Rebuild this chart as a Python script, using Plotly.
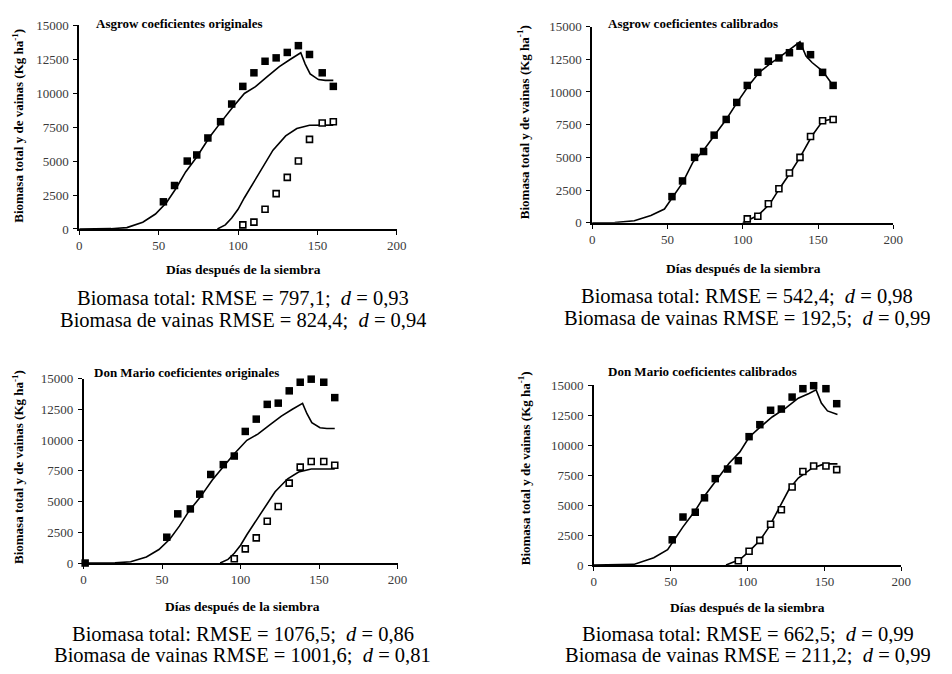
import plotly.graph_objects as go

W, H = 952, 674

# ---------------- data ----------------
days_obs = [53, 60, 68, 74, 81, 89, 96, 103, 110, 117, 124, 131, 138, 145, 153, 160]
asgrow_total_obs = [2000, 3200, 5000, 5450, 6700, 7900, 9200, 10500, 11500, 12350,
                    12600, 13000, 13500, 12850, 11500, 10500]
asgrow_pod_days = [103, 110, 117, 124, 131, 138, 145, 153, 160]
asgrow_pod_obs = [300, 500, 1450, 2600, 3800, 5000, 6600, 7800, 7900]

dm_total_days = [1, 53, 60, 68, 74, 81, 89, 96, 103, 110, 117, 124, 131, 138, 145, 153, 160]
dm_total_obs = [0, 2100, 4000, 4400, 5600, 7200, 8000, 8700, 10700, 11700, 12900,
                13000, 14000, 14700, 14950, 14700, 13450]
dm_pod_days = [96, 103, 110, 117, 124, 131, 138, 145, 153, 160]
dm_pod_obs = [350, 1150, 2050, 3400, 4600, 6500, 7800, 8250, 8250, 7950]

dm_cal_total_days = [51, 58, 66, 72, 79, 87, 94, 101, 108, 115, 122, 129, 136, 143, 151, 158]
dm_cal_total_obs = [2100, 4000, 4400, 5600, 7200, 8000, 8700, 10700, 11700, 12900,
                    13000, 14000, 14700, 14950, 14700, 13450]
dm_cal_pod_days = [94, 101, 108, 115, 122, 129, 136, 143, 151, 158]
dm_cal_pod_obs = [350, 1150, 2050, 3400, 4600, 6500, 7800, 8250, 8250, 7950]

# simulated (original coefficients) - same curves for both cultivars
sim_orig_days = [0, 20, 30, 40, 48, 55, 61, 67, 74, 82, 89, 96, 104, 111, 118, 126,
                 133, 139.5, 142.3, 145.4, 150.6, 155, 160]
sim_orig_total = [0, 20, 100, 500, 1100, 1950, 3000, 4200, 5300, 6750, 7830, 8880,
                  9980, 10480, 11180, 11950, 12500, 12980, 12140, 11420, 11000, 10940, 10940]
sim_orig_pod_days = [87, 92, 96, 100, 104, 110, 116, 122, 130, 137, 145, 160]
sim_orig_pod = [0, 300, 800, 1450, 2300, 3450, 4650, 5800, 6850, 7400, 7640, 7650]

# simulated (calibrated) Asgrow
sim_ag_cal_days = [0, 15, 28, 39, 48, 53, 60, 67, 74, 82, 89, 96, 104, 111, 118, 124,
                   131, 138, 142, 146, 153, 160]
sim_ag_cal_total = [0, 20, 150, 550, 1050, 1900, 3050, 4650, 5550, 6800, 7900, 9150,
                    10500, 11500, 12150, 12630, 13250, 13830, 12750, 12250, 11600, 10500]
sim_ag_cal_pod_days = [100, 105, 110, 118, 124, 132, 138, 146, 153, 160]
sim_ag_cal_pod = [0, 250, 550, 1450, 2550, 3900, 5000, 6650, 7770, 7950]

# simulated (calibrated) Don Mario
sim_dm_cal_days = [0, 20, 26, 39, 48, 58, 66, 72, 80, 88, 95, 101, 108, 116, 125,
                   133, 140, 144.6, 148, 152, 158.5]
sim_dm_cal_total = [0, 0, 50, 600, 1280, 3180, 4540, 5760, 7120, 8480, 9430, 10650,
                    11470, 12340, 13100, 13910, 14300, 14600, 13500, 12850, 12550]
sim_dm_cal_pod_days = [86, 95, 101, 108, 114, 120, 127, 133, 142, 150, 158.5]
sim_dm_cal_pod = [0, 460, 1140, 2040, 3180, 4680, 6310, 7250, 8070, 8430, 8430]

x_ticks = [0, 50, 100, 150, 200]
x_tick_labels = ["0", "50", "100", "150", "200"]
y_ticks = [0, 2500, 5000, 7500, 10000, 12500, 15000]
y_tick_labels = ["0", "2500", "5000", "7500", "10000", "12500", "15000"]

titles = ["Asgrow coeficientes originales", "Asgrow coeficientes calibrados",
          "Don Mario coeficientes originales", "Don Mario coeficientes calibrados"]
captions = [
    ("797,1", "0,93", "824,4", "0,94"),
    ("542,4", "0,98", "192,5", "0,99"),
    ("1076,5", "0,86", "1001,6", "0,81"),
    ("662,5", "0,99", "211,2", "0,99"),
]

panels_data = [
    (days_obs, asgrow_total_obs, asgrow_pod_days, asgrow_pod_obs,
     sim_orig_days, sim_orig_total, sim_orig_pod_days, sim_orig_pod),
    (days_obs, asgrow_total_obs, asgrow_pod_days, asgrow_pod_obs,
     sim_ag_cal_days, sim_ag_cal_total, sim_ag_cal_pod_days, sim_ag_cal_pod),
    (dm_total_days, dm_total_obs, dm_pod_days, dm_pod_obs,
     sim_orig_days, sim_orig_total, sim_orig_pod_days, sim_orig_pod),
    (dm_cal_total_days, dm_cal_total_obs, dm_cal_pod_days, dm_cal_pod_obs,
     sim_dm_cal_days, sim_dm_cal_total, sim_dm_cal_pod_days, sim_dm_cal_pod),
]

# ---------------- layout geometry (pixels) ----------------
boxes = [  # x0, x1, ytop, ybottom
    (77.3, 399.3, 18.7, 227.0),
    (597.3, 902.7, 20.0, 220.7),
    (81.7, 400.0, 380.0, 568.7),
    (599.0, 910.7, 386.7, 570.7),
]
title_pos = [(92, 16.7), (611.7, 16.7), (90.7, 374), (611.7, 373.3)]
xtitle_pos = [(243.5, 268.3), (751, 267.3), (243, 613.3), (755, 614.3)]
ytitle_pos = [(15, 121.7), (528, 118), (15, 470.7), (529, 472)]
cap_pos = [(243, 296.7, 319.3), (754, 295.5, 317.5), (243, 640.7, 662.7), (755, 640.7, 662.7)]


def px(x):
    return x / W


def py(y):
    return 1 - y / H


FONT = "Liberation Serif"
fig = go.Figure()
annotations = []

for i, (d_t, v_t, d_p, v_p, sd_t, sv_t, sd_p, sv_p) in enumerate(panels_data):
    n = "" if i == 0 else str(i + 1)
    xa, ya = "x" + n, "y" + n
    # simulated lines
    fig.add_trace(go.Scatter(x=sd_t, y=sv_t, mode="lines", xaxis=xa, yaxis=ya,
                             line=dict(color="black", width=1.6), showlegend=False,
                             cliponaxis=False))
    fig.add_trace(go.Scatter(x=sd_p, y=sv_p, mode="lines", xaxis=xa, yaxis=ya,
                             line=dict(color="black", width=1.6), showlegend=False,
                             cliponaxis=False))
    # observed
    fig.add_trace(go.Scatter(x=d_t, y=v_t, mode="markers", xaxis=xa, yaxis=ya,
                             marker=dict(symbol="square", size=7.5, color="black",
                                         line=dict(width=0)),
                             showlegend=False, cliponaxis=False))
    fig.add_trace(go.Scatter(x=d_p, y=v_p, mode="markers", xaxis=xa, yaxis=ya,
                             marker=dict(symbol="square", size=6, color="white",
                                         line=dict(width=1.6, color="black")),
                             showlegend=False, cliponaxis=False))

    x0, x1, yt, yb = boxes[i]
    axis_common = dict(showgrid=False, zeroline=False, showline=True, linecolor="black",
                       linewidth=1.6, ticks="outside", ticklen=4, tickwidth=1.3,
                       tickcolor="black",
                       tickfont=dict(family=FONT, size=13, color="#3a3a3a"))
    fig.layout["xaxis" + n] = dict(domain=[px(x0), px(x1)], range=[0, 200],
                                   tickmode="array", tickvals=x_ticks,
                                   ticktext=x_tick_labels, anchor=ya, **axis_common)
    fig.layout["yaxis" + n] = dict(domain=[py(yb), py(yt)], range=[0, 15000],
                                   tickmode="array", tickvals=y_ticks,
                                   ticktext=y_tick_labels, anchor=xa,
                                   ticklabelstandoff=2, **axis_common)

    tx, ty = title_pos[i]
    annotations.append(dict(x=px(tx), y=py(ty), xref="paper", yref="paper",
                            text="<b>%s</b>" % titles[i], showarrow=False,
                            xanchor="left", yanchor="middle",
                            font=dict(family=FONT, size=13, color="black")))
    gx, gy = xtitle_pos[i]
    annotations.append(dict(x=px(gx), y=py(gy), xref="paper", yref="paper",
                            text="<b>Días después de la siembra</b>", showarrow=False,
                            xanchor="center", yanchor="middle",
                            font=dict(family=FONT, size=13.5, color="black")))
    vx, vy = ytitle_pos[i]
    annotations.append(dict(x=px(vx), y=py(vy), xref="paper", yref="paper",
                            text="<b>Biomasa total y de vainas (Kg ha<sup>-1</sup>)</b>",
                            showarrow=False, textangle=-90,
                            xanchor="center", yanchor="middle",
                            font=dict(family=FONT, size=13, color="black")))
    cx, cy1, cy2 = cap_pos[i]
    r1, d1, r2, d2 = captions[i]
    annotations.append(dict(x=px(cx), y=py(cy1), xref="paper", yref="paper",
                            text="Biomasa total: RMSE = %s; \u00a0<i>d</i> = %s" % (r1, d1),
                            showarrow=False, xanchor="center", yanchor="middle",
                            height=21, valign="middle",
                            font=dict(family=FONT, size=20.5, color="black")))
    annotations.append(dict(x=px(cx), y=py(cy2), xref="paper", yref="paper",
                            text="Biomasa de vainas RMSE = %s; \u00a0<i>d</i> = %s" % (r2, d2),
                            showarrow=False, xanchor="center", yanchor="middle",
                            height=21, valign="middle",
                            font=dict(family=FONT, size=20.5, color="black")))

fig.update_layout(width=W, height=H, margin=dict(l=0, r=0, t=0, b=0),
                  paper_bgcolor="white", plot_bgcolor="white",
                  annotations=annotations, showlegend=False)

fig.write_html("out.html", config={"displayModeBar": False},
               post_script="document.body.style.margin='0';")
